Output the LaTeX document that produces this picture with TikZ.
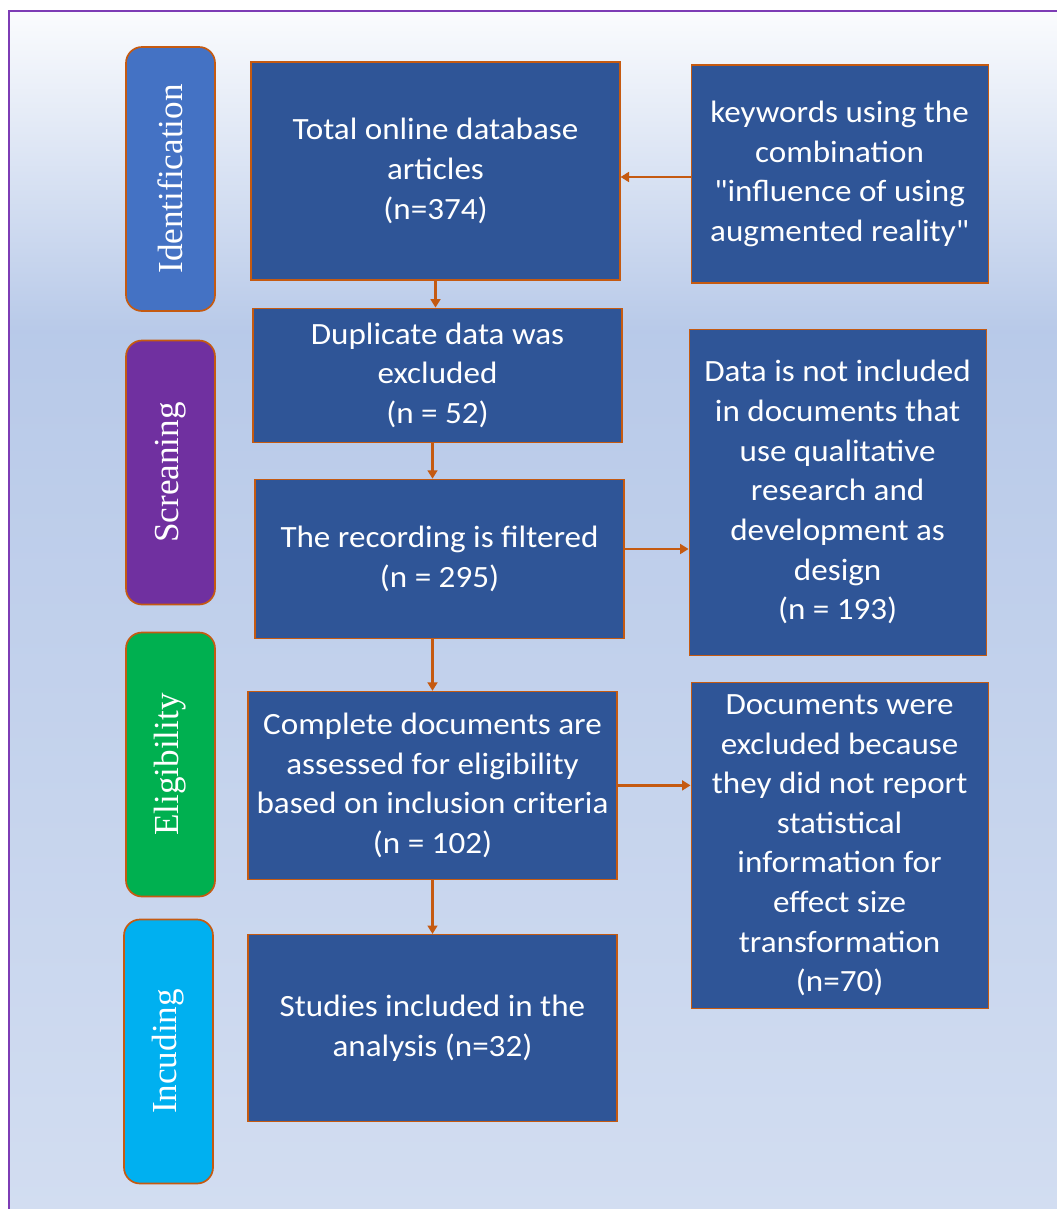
\documentclass[tikz,border=0pt]{standalone}
\usepackage{fontspec}
\setmainfont{Carlito}[FakeStretch=1.07, Ligatures=TeXOff]
\newfontfamily\stagefont{Liberation Serif}
\usepackage{tikz}
\usetikzlibrary{positioning}
\usetikzlibrary{arrows.meta}

\definecolor{boxblue}{HTML}{2F5597}
\definecolor{edgeorange}{HTML}{C55A11}
\definecolor{framepurple}{HTML}{7D3CB5}
\definecolor{idblue}{HTML}{4472C4}
\definecolor{scrpurple}{HTML}{7030A0}
\definecolor{elgreen}{HTML}{00B050}
\definecolor{incyan}{HTML}{00B0F0}

\begin{document}
\begin{tikzpicture}[
  box/.style={draw=edgeorange, line width=0.8pt, fill=boxblue, text=white, align=center,
              minimum width=9.225cm, inner sep=2pt,
              font=\fontsize{22}{28.2}\selectfont},
  sidebox/.style={box, minimum width=7.425cm},
  stage/.style={draw=edgeorange, line width=1.2pt, rounded corners=0.4cm, text=white, rotate=90,
                minimum width=6.6cm, minimum height=2.225cm, inner sep=0pt,
                font=\stagefont\fontsize{25}{30}\selectfont},
  arr/.style={draw=edgeorange, line width=2pt, -{Triangle[length=6pt,width=7pt]}}
]
 \useasboundingbox (0,0) rectangle (26.4,-30.225);
 % background panel
 \shade[top color=white!70!idblue!8, bottom color=idblue!38!white] (0.225,-0.275) rectangle (26.5,-8.3);
 \shade[top color=idblue!38!white, bottom color=idblue!24!white]   (0.225,-8.25) rectangle (26.5,-30.4);
 \draw[framepurple, line width=1.6pt] (26.6,-0.275) -- (0.225,-0.275) -- (0.225,-30.4);

 % stages
 \node[stage, fill=idblue,    name=identification] at (4.2625,-4.475)   {Identification};
 \node[stage, fill=scrpurple, name=screening]      at (4.2625,-11.8125) {Screaning};
 \node[stage, fill=elgreen,   name=eligibility]    at (4.2625,-19.1125) {Eligibility};
 \node[stage, fill=incyan,    name=including]      at (4.2125,-26.2875) {Incuding};

 % main column
 \node[box, minimum height=5.45cm,  name=total]                                       at (10.8875,-4.275) {Total online database\\articles\\(n=374)};
 \node[box, minimum height=3.35cm,  below=0.675cm of total,    xshift=0.05cm,   name=duplicate] {Duplicate data was\\excluded\\(n = 52)};
 \node[box, minimum height=3.975cm, below=0.9cm of duplicate,  xshift=0.05cm,   name=filtered]  {The recording is filtered\\(n = 295)};
 \node[box, minimum height=4.7cm,   below=1.3cm of filtered,   xshift=-0.175cm, name=assessed]  {Complete documents are\\assessed for eligibility\\based on inclusion criteria\\(n = 102)};
 \node[box, minimum height=4.675cm, below=1.35cm of assessed,                   name=included]  {Studies included in the\\analysis (n=32)};

 % side column
 \node[sidebox, minimum height=5.45cm, right=1.75cm of total,    yshift=-0.075cm, name=keywords]    {keywords using the\\combination\\"influence of using\\augmented reality"};
 \node[sidebox, minimum height=8.15cm, right=1.6cm of filtered,  yshift=1.6625cm, name=qualitative] {Data is not included\\in documents that\\use qualitative\\research and\\development as\\design\\(n = 193)};
 \node[sidebox, minimum height=8.15cm, right=1.825cm of assessed, yshift=-1.5cm,  name=excluded]    {Documents were\\excluded because\\they did not report\\statistical\\information for\\effect size\\transformation\\(n=70)};

 \draw[arr] (keywords.west |- 0,-4.425) -- (total.east |- 0,-4.425);
 \draw[arr] (total.south)     -- (total.south |- duplicate.north);
 \draw[arr] (duplicate.south -| included.north) -- (filtered.north -| included.north);
 \draw[arr] (filtered.east |- 0,-13.725) -- (qualitative.west |- 0,-13.725);
 \draw[arr] (filtered.south -| included.north)  -- (assessed.north -| included.north);
 \draw[arr] (assessed.east)   -- (excluded.west |- assessed.east);
 \draw[arr] (assessed.south)  -- (included.north);
\end{tikzpicture}
\end{document}
